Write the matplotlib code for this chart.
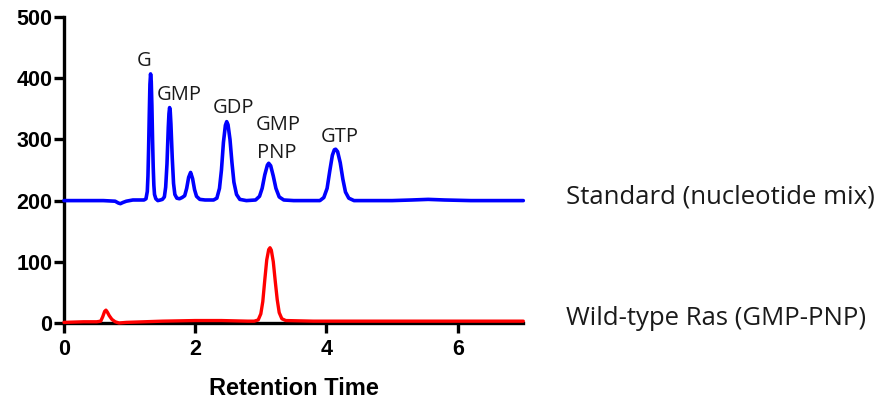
import matplotlib
matplotlib.use("Agg")
import matplotlib.pyplot as plt

# Standard (nucleotide mix) trace: retention time, signal
std_time = [0, 0.3, 0.6, 0.78, 0.83, 0.86, 0.9, 0.95, 1.05, 1.15,
            1.22, 1.25, 1.27, 1.28, 1.29, 1.30, 1.31, 1.32, 1.33, 1.34, 1.35, 1.36, 1.37, 1.38, 1.40, 1.43, 1.47,
            1.50, 1.53, 1.55, 1.57, 1.59, 1.60, 1.61, 1.62, 1.63, 1.65, 1.67, 1.69, 1.72, 1.76, 1.80,
            1.84, 1.87, 1.90, 1.93, 1.96, 1.99, 2.02, 2.07, 2.15, 2.28,
            2.33, 2.37, 2.40, 2.43, 2.46, 2.48, 2.50, 2.53, 2.56, 2.59, 2.63, 2.68, 2.78,
            2.92, 2.98, 3.02, 3.06, 3.10, 3.12, 3.15, 3.19, 3.23, 3.28, 3.35, 3.50,
            3.90, 3.96, 4.01, 4.05, 4.09, 4.12, 4.14, 4.17, 4.21, 4.25, 4.29, 4.34, 4.42,
            5.00, 5.30, 5.55, 5.80, 6.20, 7.00]
std_signal = [200, 200, 200, 199, 196, 195, 197, 199, 201, 201,
              201, 203, 215, 240, 285, 340, 390, 407, 395, 355, 300, 255, 225, 210, 203, 200, 201,
              202, 206, 222, 260, 320, 342, 352, 345, 325, 270, 228, 210, 204, 203, 205,
              208, 220, 238, 246, 236, 218, 207, 202, 201, 201,
              204, 220, 250, 295, 323, 329, 324, 300, 262, 230, 210, 202, 200,
              201, 207, 220, 242, 258, 261, 257, 240, 220, 206, 201, 200,
              200, 205, 220, 248, 274, 283, 284, 280, 262, 235, 214, 204, 200,
              200, 201, 202, 201, 200, 200]

# Wild-type Ras (GMP-PNP) trace
ras_time = [0, 0.3, 0.50, 0.56, 0.59, 0.62, 0.64, 0.66, 0.69, 0.73, 0.78, 0.84, 0.95,
            1.5, 2.0, 2.4, 2.8,
            2.90, 2.96, 3.00, 3.03, 3.06, 3.09, 3.12, 3.14, 3.16, 3.19, 3.22, 3.25, 3.28, 3.32, 3.38,
            3.8, 4.5, 5.5, 7.0]
ras_signal = [1, 2, 2, 3, 10, 19, 21, 18, 12, 6, 2, 0, 1,
              3, 4, 4, 3,
              3, 5, 15, 35, 70, 103, 120, 123, 119, 100, 68, 38, 17, 7, 4,
              3, 3, 3, 3]

# Peak labels: text, x, y (baseline)
peak_labels = ["G", "GMP", "GDP", "GMP", "PNP", "GTP"]
peak_label_x = [1.22, 1.76, 2.58, 3.27, 3.24, 4.21]
peak_label_y = [420, 364, 343, 315, 269, 296]

series_names = ["Standard (nucleotide mix)", "Wild-type Ras (GMP-PNP)"]
series_name_y = [196, -3]

x_ticks = [0, 2, 4, 6]
y_ticks = [0, 100, 200, 300, 400, 500]

fig = plt.figure(figsize=(8.81, 4.0), dpi=100)
ax = fig.add_axes([0.0726, 0.1925, 0.5214, 0.765])

ax.plot(std_time, std_signal, color="#0000ff", lw=2.6, solid_joinstyle="round",
        solid_capstyle="round", clip_on=False, zorder=3)
ax.plot(ras_time, ras_signal, color="#ff0000", lw=2.4, solid_joinstyle="round",
        solid_capstyle="round", clip_on=False, zorder=3)

ax.set_xlim(0, 7)
ax.set_ylim(0, 500)
ax.set_xticks(x_ticks)
ax.set_yticks(y_ticks)

for s in ["top", "right"]:
    ax.spines[s].set_visible(False)
for s in ["left", "bottom"]:
    ax.spines[s].set_linewidth(2.4)
    ax.spines[s].set_color("black")

ax.tick_params(direction="out", length=7.5, width=2.4)
ax.tick_params(axis="y", pad=1)
ax.tick_params(axis="x", pad=4)
for lab in ax.get_xticklabels() + ax.get_yticklabels():
    lab.set_fontfamily("Liberation Sans")
    lab.set_fontweight("bold")
    lab.set_fontsize(15.5)

ax.set_xlabel("Retention Time", fontfamily="Liberation Sans", fontweight="bold",
              fontsize=17, labelpad=12)

for t, x, y in zip(peak_labels, peak_label_x, peak_label_y):
    ax.text(x, y, t, ha="center", va="baseline", fontfamily="Open Sans",
            fontsize=14.5, color="#1a1a1a", zorder=4)

for name, y in zip(series_names, series_name_y):
    ax.text(7.65, y, name, ha="left", va="baseline", fontfamily="Open Sans",
            fontsize=18.5, color="#1a1a1a", clip_on=False)

fig.savefig("out.png", dpi=100)
